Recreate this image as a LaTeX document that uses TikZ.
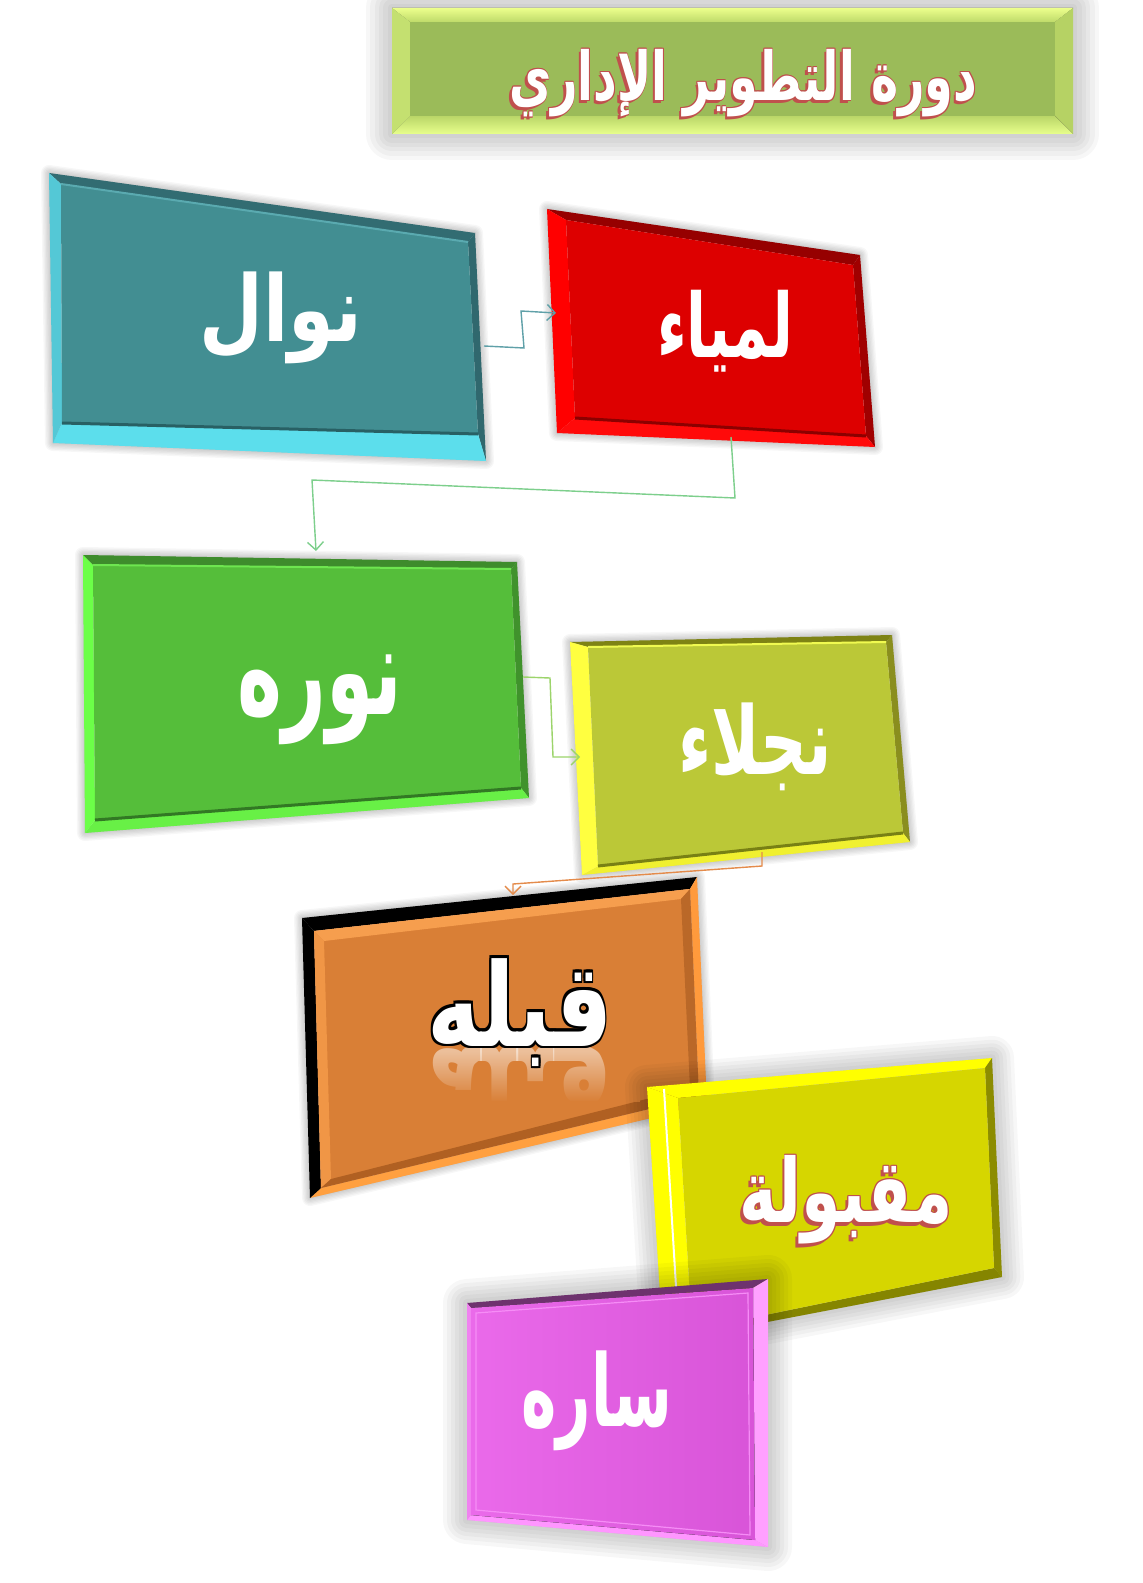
\documentclass[tikz,border=0pt]{standalone}
\usepackage{fontspec}
\usetikzlibrary{calc,arrows.meta,fadings}
\newfontfamily\arfont[Script=Arabic]{DejaVu Sans}
\TeXXeTstate=1
\newcommand\artxt[1]{{\arfont\bfseries\fontsize{40pt}{48pt}\selectfont #1}}
% outlined text: #1 line colour, #2 outline width, #3 fill colour, #4 shadow shift, #5 text
\newcommand\outl[5]{%
 \setbox0=\hbox{\color{#1}\artxt{#5}}%
 \setbox2=\hbox{\color{#3}\artxt{#5}}%
 \hbox{\rlap{\kern-#4\lower#4\copy0}\rlap{\kern#2\copy0}\rlap{\kern-#2\copy0}\rlap{\raise#2\copy0}\rlap{\lower#2\copy0}%
 \rlap{\kern#2\raise#2\copy0}\rlap{\kern-#2\raise#2\copy0}\rlap{\kern#2\lower#2\copy0}\rlap{\kern-#2\lower#2\copy0}\box2}}
\newcommand\wtxt[1]{\color{white}\artxt{#1}}
\newcommand\qbox[9]{\coordinate (#1a) at (#2);\coordinate (#1b) at (#3);\coordinate (#1c) at (#4);\coordinate (#1d) at (#5);%
 \coordinate (#1ia) at (#6);\coordinate (#1ib) at (#7);\coordinate (#1ic) at (#8);\coordinate (#1id) at (#9);}
\newcommand\bfaces[2]{%
 \fill[bx-#2-top] (#1a)--(#1b)--(#1ib)--(#1ia)--cycle;
 \fill[bx-#2-right] (#1b)--(#1c)--(#1ic)--(#1ib)--cycle;
 \fill[bx-#2-bot] (#1c)--(#1d)--(#1id)--(#1ic)--cycle;
 \fill[bx-#2-left] (#1d)--(#1a)--(#1ia)--(#1id)--cycle;
 \fill[bx-#2-face] (#1ia)--(#1ib)--(#1ic)--(#1id)--cycle;}
\newcommand\softshadow[4]{%
 \begin{scope}[shift={(#2,#3)}]
  \foreach \w in {1,...,6}{\draw[black,opacity=0.03,line join=round,line width=\w*#4*0.1666pt] (#1a)--(#1b)--(#1c)--(#1d)--cycle;}
  \fill[black,opacity=0.08] (#1a)--(#1b)--(#1c)--(#1d)--cycle;
 \end{scope}}
\tikzfading[name=fadedown, top color=transparent!100, bottom color=transparent!0]
\definecolor{tiface}{HTML}{9BBB59}
\definecolor{tired}{HTML}{C0504D}
\definecolor{orface}{HTML}{D97F36}
\definecolor{tealhi}{RGB}{90,170,176}
\definecolor{tealdk}{RGB}{40,96,100}
\definecolor{reddk}{RGB}{140,0,0}
\definecolor{greendk}{RGB}{50,120,36}
\definecolor{greenhi}{RGB}{110,230,80}
\definecolor{njdk}{RGB}{120,128,20}
\definecolor{njhi}{RGB}{240,250,80}
\definecolor{orhiA}{RGB}{246,158,78}
\definecolor{orhiB}{RGB}{240,150,70}
\definecolor{ordkA}{RGB}{176,96,34}
\definecolor{ordkB}{RGB}{186,104,40}
\definecolor{saline}{RGB}{246,140,246}
\definecolor{cone}{RGB}{95,160,168}
\definecolor{ctwo}{RGB}{125,207,140}
\definecolor{cthree}{RGB}{156,212,107}
\definecolor{cfour}{RGB}{228,139,75}
\tikzset{
 every node/.style={inner sep=0pt,outer sep=0pt},
 conn/.style={line width=0.7pt,-{Straight Barb[length=4pt,width=8pt]}},
 bx-ti-top/.style={top color={rgb,255:red,236;green,255;blue,140},bottom color={rgb,255:red,190;green,218;blue,106}},
 bx-ti-bot/.style={bottom color={rgb,255:red,232;green,255;blue,140},top color={rgb,255:red,186;green,214;blue,104}},
 bx-ti-left/.style={fill={rgb,255:red,196;green,224;blue,112}},
 bx-ti-right/.style={fill={rgb,255:red,182;green,210;blue,100}},
 bx-ti-face/.style={fill=tiface},
 bx-te-top/.style={fill={rgb,255:red,50;green,108;blue,114}},
 bx-te-right/.style={fill={rgb,255:red,48;green,104;blue,110}},
 bx-te-bot/.style={fill={rgb,255:red,92;green,222;blue,236}},
 bx-te-left/.style={fill={rgb,255:red,84;green,200;blue,214}},
 bx-te-face/.style={fill={rgb,255:red,66;green,142;blue,146}},
 bx-re-top/.style={fill={rgb,255:red,150;green,0;blue,0}},
 bx-re-right/.style={fill={rgb,255:red,160;green,0;blue,0}},
 bx-re-bot/.style={fill={rgb,255:red,255;green,10;blue,10}},
 bx-re-left/.style={fill={rgb,255:red,255;green,0;blue,0}},
 bx-re-face/.style={fill={rgb,255:red,221;green,0;blue,0}},
 bx-gr-top/.style={fill={rgb,255:red,62;green,140;blue,44}},
 bx-gr-right/.style={fill={rgb,255:red,64;green,146;blue,44}},
 bx-gr-bot/.style={fill={rgb,255:red,104;green,240;blue,70}},
 bx-gr-left/.style={fill={rgb,255:red,108;green,255;blue,72}},
 bx-gr-face/.style={fill={rgb,255:red,85;green,190;blue,58}},
 bx-nj-top/.style={fill={rgb,255:red,126;green,131;blue,20}},
 bx-nj-right/.style={fill={rgb,255:red,138;green,142;blue,30}},
 bx-nj-bot/.style={fill={rgb,255:red,240;green,240;blue,48}},
 bx-nj-left/.style={fill={rgb,255:red,255;green,255;blue,64}},
 bx-nj-face/.style={fill={rgb,255:red,187;green,200;blue,55}},
 bx-or-top/.style={fill=black},
 bx-or-right/.style={fill={rgb,255:red,255;green,154;blue,60}},
 bx-or-bot/.style={fill={rgb,255:red,255;green,160;blue,64}},
 bx-or-left/.style={fill=black},
 bx-or-face/.style={fill=orface},
 bx-mq-top/.style={fill={rgb,255:red,255;green,255;blue,0}},
 bx-mq-right/.style={fill={rgb,255:red,140;green,140;blue,0}},
 bx-mq-bot/.style={fill={rgb,255:red,133;green,133;blue,0}},
 bx-mq-left/.style={fill={rgb,255:red,255;green,255;blue,0}},
 bx-mq-face/.style={fill={rgb,255:red,214;green,214;blue,0}},
 bx-sa-top/.style={fill={rgb,255:red,110;green,50;blue,110}},
 bx-sa-right/.style={fill={rgb,255:red,255;green,160;blue,255}},
 bx-sa-bot/.style={fill={rgb,255:red,255;green,150;blue,255}},
 bx-sa-left/.style={fill={rgb,255:red,240;green,130;blue,240}},
 bx-sa-face/.style={shading=axis,shading angle=45,left color={rgb,255:red,234;green,106;blue,234},right color={rgb,255:red,216;green,84;blue,216}},
}
\begin{document}
\begin{tikzpicture}[x=0.5pt,y=-0.5pt]
\useasboundingbox (0,0) rectangle (1143,1583);
\fill[white] (0,0) rectangle (1143,1583);
% geometry
\qbox{H}{392,8}{1073,8}{1073,134}{392,134}{410,22}{1055,22}{1055,116}{410,116}
\qbox{T}{49,173}{475,233}{486,461}{53,443}{61,184}{468,242}{478,434}{62,423}
\qbox{R}{547,209}{860,255}{875,447}{557,433}{566,220}{853,265}{866,436}{575,418}
\qbox{G}{83,555}{517,562}{529,798}{85,833}{93,565}{511,569}{521,788}{95,820}
\qbox{N}{570,642}{892,635}{910,842}{582,875}{588,647}{886,642}{903,833}{598,866}
\qbox{O}{302,918}{697,877}{707,1105}{310,1198}{314,931}{690,889}{699,1097}{321,1188}
\qbox{M}{647,1087}{992,1058}{1002,1277}{663,1342}{678,1098}{985,1068}{994,1268}{692,1330}
\qbox{S}{467,1303}{768,1279}{768,1547}{467,1520}{471,1308}{753,1288}{755,1540}{471,1515}
% title
\softshadow{H}{12}{22}{26}
\bfaces{H}{ti}
\node (title) at (743,84) {\resizebox*{234pt}{36pt}{\outl{tired}{0.6pt}{white}{2pt}{\beginR دورة التطوير الإداري\endR}}};
% teal
\softshadow{T}{4}{6}{8}
\bfaces{T}{te}
\draw[line width=1pt,tealhi] (Tia)--(Tib);
\draw[line width=1.5pt,tealdk] (Tid)--(Tic);
\node (nawal) at (281,318) {\resizebox*{81.5pt}{46pt}{\wtxt{\beginR نوال\endR}}};
% red
\softshadow{R}{4}{6}{8}
\bfaces{R}{re}
\draw[line width=1.5pt,reddk] (Rid)--(Ric);
\node (lamya) at (725,331) {\resizebox*{68pt}{41pt}{\wtxt{\beginR لمياء\endR}}};
% green
\softshadow{G}{4}{6}{8}
\bfaces{G}{gr}
\draw[line width=1.5pt,greendk] (Gid)--(Gic);
\draw[line width=1pt,greenhi] (Gia)--(Gib);
\node (noura) at (320,700) {\resizebox*{82.5pt}{45pt}{\wtxt{\beginR نوره\endR}}};
% najla
\softshadow{N}{4}{6}{8}
\bfaces{N}{nj}
\draw[line width=1.5pt,njdk] (Nid)--(Nic);
\draw[line width=1pt,njhi] (Nia)--(Nib);
\node (najla) at (755,747) {\resizebox*{77pt}{44pt}{\wtxt{\beginR نجلاء\endR}}};
% connectors (upper)
\coordinate (Te) at (484,346); \coordinate (Rw) at (556,313);
\coordinate (Rs) at (731,437); \coordinate (Gn) at (316,551);
\coordinate (Ge) at (523,677); \coordinate (Nw) at (580,757);
\draw[conn,cone] (Te)--(524,348)--(521,311)--(Rw);
\draw[conn,ctwo] (Rs)--(735,498)--(312,480)--(Gn);
\draw[conn,cthree] (Ge)--(550,678)--(553,757)--(Nw);
% orange
\softshadow{O}{3}{5}{8}
\bfaces{O}{or}
\fill[orhiA] (Oia)--(Oib)--($(Oib)+(-9,10)$)--($(Oia)+(10,10)$)--cycle;
\fill[orhiB] (Oia)--($(Oia)+(10,10)$)--($(Oid)+(10,-9)$)--(Oid)--cycle;
\fill[ordkA] (Oid)--(Oic)--($(Oic)+(-9,-9)$)--($(Oid)+(10,-9)$)--cycle;
\fill[ordkB] (Oib)--(Oic)--($(Oic)+(-9,-9)$)--($(Oib)+(-9,10)$)--cycle;
\coordinate (Ns) at (762,852); \coordinate (On) at (513,895);
\draw[conn,cfour] (Ns)--(762,866)--(513,884)--(On);
\begin{scope}
 \clip (400,1046) rectangle (640,1100);
 \node[anchor=base,text opacity=0.5] (qref) at (520,1046) {\resizebox*{92.5pt}{56pt}{\scalebox{1}[-1]{\wtxt{\beginR قبله\endR}}}};
\end{scope}
\fill[orface,path fading=fadedown] (400,1052) rectangle (640,1102);
\node[anchor=base] (qabla) at (520,1046) {\resizebox*{92.5pt}{56pt}{\outl{black}{0.7pt}{white}{0pt}{\beginR قبله\endR}}};
% maqbula
\softshadow{M}{0}{0}{22}
\bfaces{M}{mq}
\draw[white,line width=1pt] (664,1089)--(679,1336);
\node (maqbula) at (846,1201) {\resizebox*{106.5pt}{47pt}{\outl{tired}{0.6pt}{white}{1.8pt}{\beginR مقبولة\endR}}};
% sara
\softshadow{S}{-8}{-8}{24}
\bfaces{S}{sa}
\draw[line width=0.6pt,saline] ($(Sia)+(5,5)$)--($(Sib)+(-5,5)$)--($(Sic)+(-5,-5)$)--($(Sid)+(5,-5)$)--cycle;
\node (sara) at (597,1401) {\resizebox*{75.5pt}{50pt}{\wtxt{\beginR ساره\endR}}};
\end{tikzpicture}
\end{document}
